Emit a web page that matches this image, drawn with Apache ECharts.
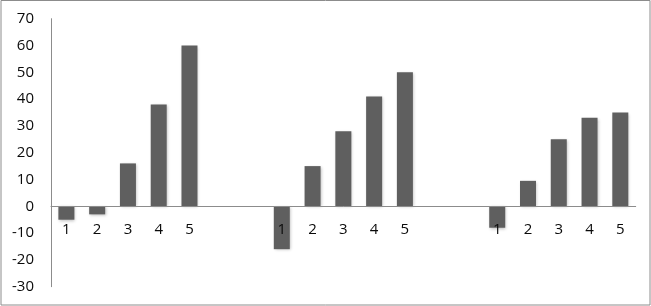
<!DOCTYPE html>
<html>
<head>
<meta charset="utf-8">
<script src="https://cdn.jsdelivr.net/npm/echarts@6/dist/echarts.min.js"></script>
<style>
html,body{margin:0;padding:0;background:#fff;}
#c{width:651px;height:306px;}
</style>
</head>
<body>
<div id="c"></div>
<script>
// Data
const categories = ['1','2','3','4','5','','','1','2','3','4','5','','','1','2','3','4','5'];
const values = [-5, -3, 16, 38, 60, null, null, -16, 15, 28, 41, 50, null, null, -8, 9.5, 25, 33, 35];
const yMin = -30, yMax = 70, yStep = 10;

const gridTop = 18.7, gridBottom = 19.3, H = 306;
const plotH = H - gridTop - gridBottom;
const zeroOffset = -(0 - yMin) / (yMax - yMin) * plotH;

const chart = echarts.init(document.getElementById('c'), null, {renderer: 'canvas'});
chart.setOption({
  animation: false,
  backgroundColor: '#fff',
  graphic: [{
    type: 'rect',
    shape: {x: 1, y: 0.5, width: 649, height: 304.5},
    style: {fill: 'none', stroke: '#8c8c8c', lineWidth: 1},
    silent: true, z: 100
  }],
  grid: {left: 51, right: 15.3, top: gridTop, bottom: gridBottom, containLabel: false, outerBoundsMode: 'none'},
  xAxis: {
    type: 'category',
    data: categories,
    position: 'bottom',
    offset: zeroOffset,
    z: 10,
    axisLine: {onZero: false, lineStyle: {color: '#8c8c8c', width: 1}},
    axisTick: {show: false},
    axisLabel: {
      interval: 0, margin: 16,
      fontFamily: 'Open Sans, Liberation Sans, sans-serif', fontSize: 15, color: '#0a0a0a'
    },
    splitLine: {show: false}
  },
  yAxis: {
    type: 'value',
    min: yMin, max: yMax, interval: yStep,
    axisLine: {show: true, lineStyle: {color: '#8c8c8c', width: 1}},
    axisTick: {show: false},
    splitLine: {show: false},
    axisLabel: {
      margin: 17,
      fontFamily: 'Open Sans, Liberation Sans, sans-serif', fontSize: 15, color: '#0a0a0a'
    }
  },
  series: [{
    type: 'bar',
    data: values,
    barWidth: 16,
    itemStyle: {
      color: '#5f5f5f',
      shadowColor: 'rgba(0,0,0,0.25)',
      shadowBlur: 3,
      shadowOffsetX: 1,
      shadowOffsetY: 1
    }
  }]
});
</script>
</body>
</html>
